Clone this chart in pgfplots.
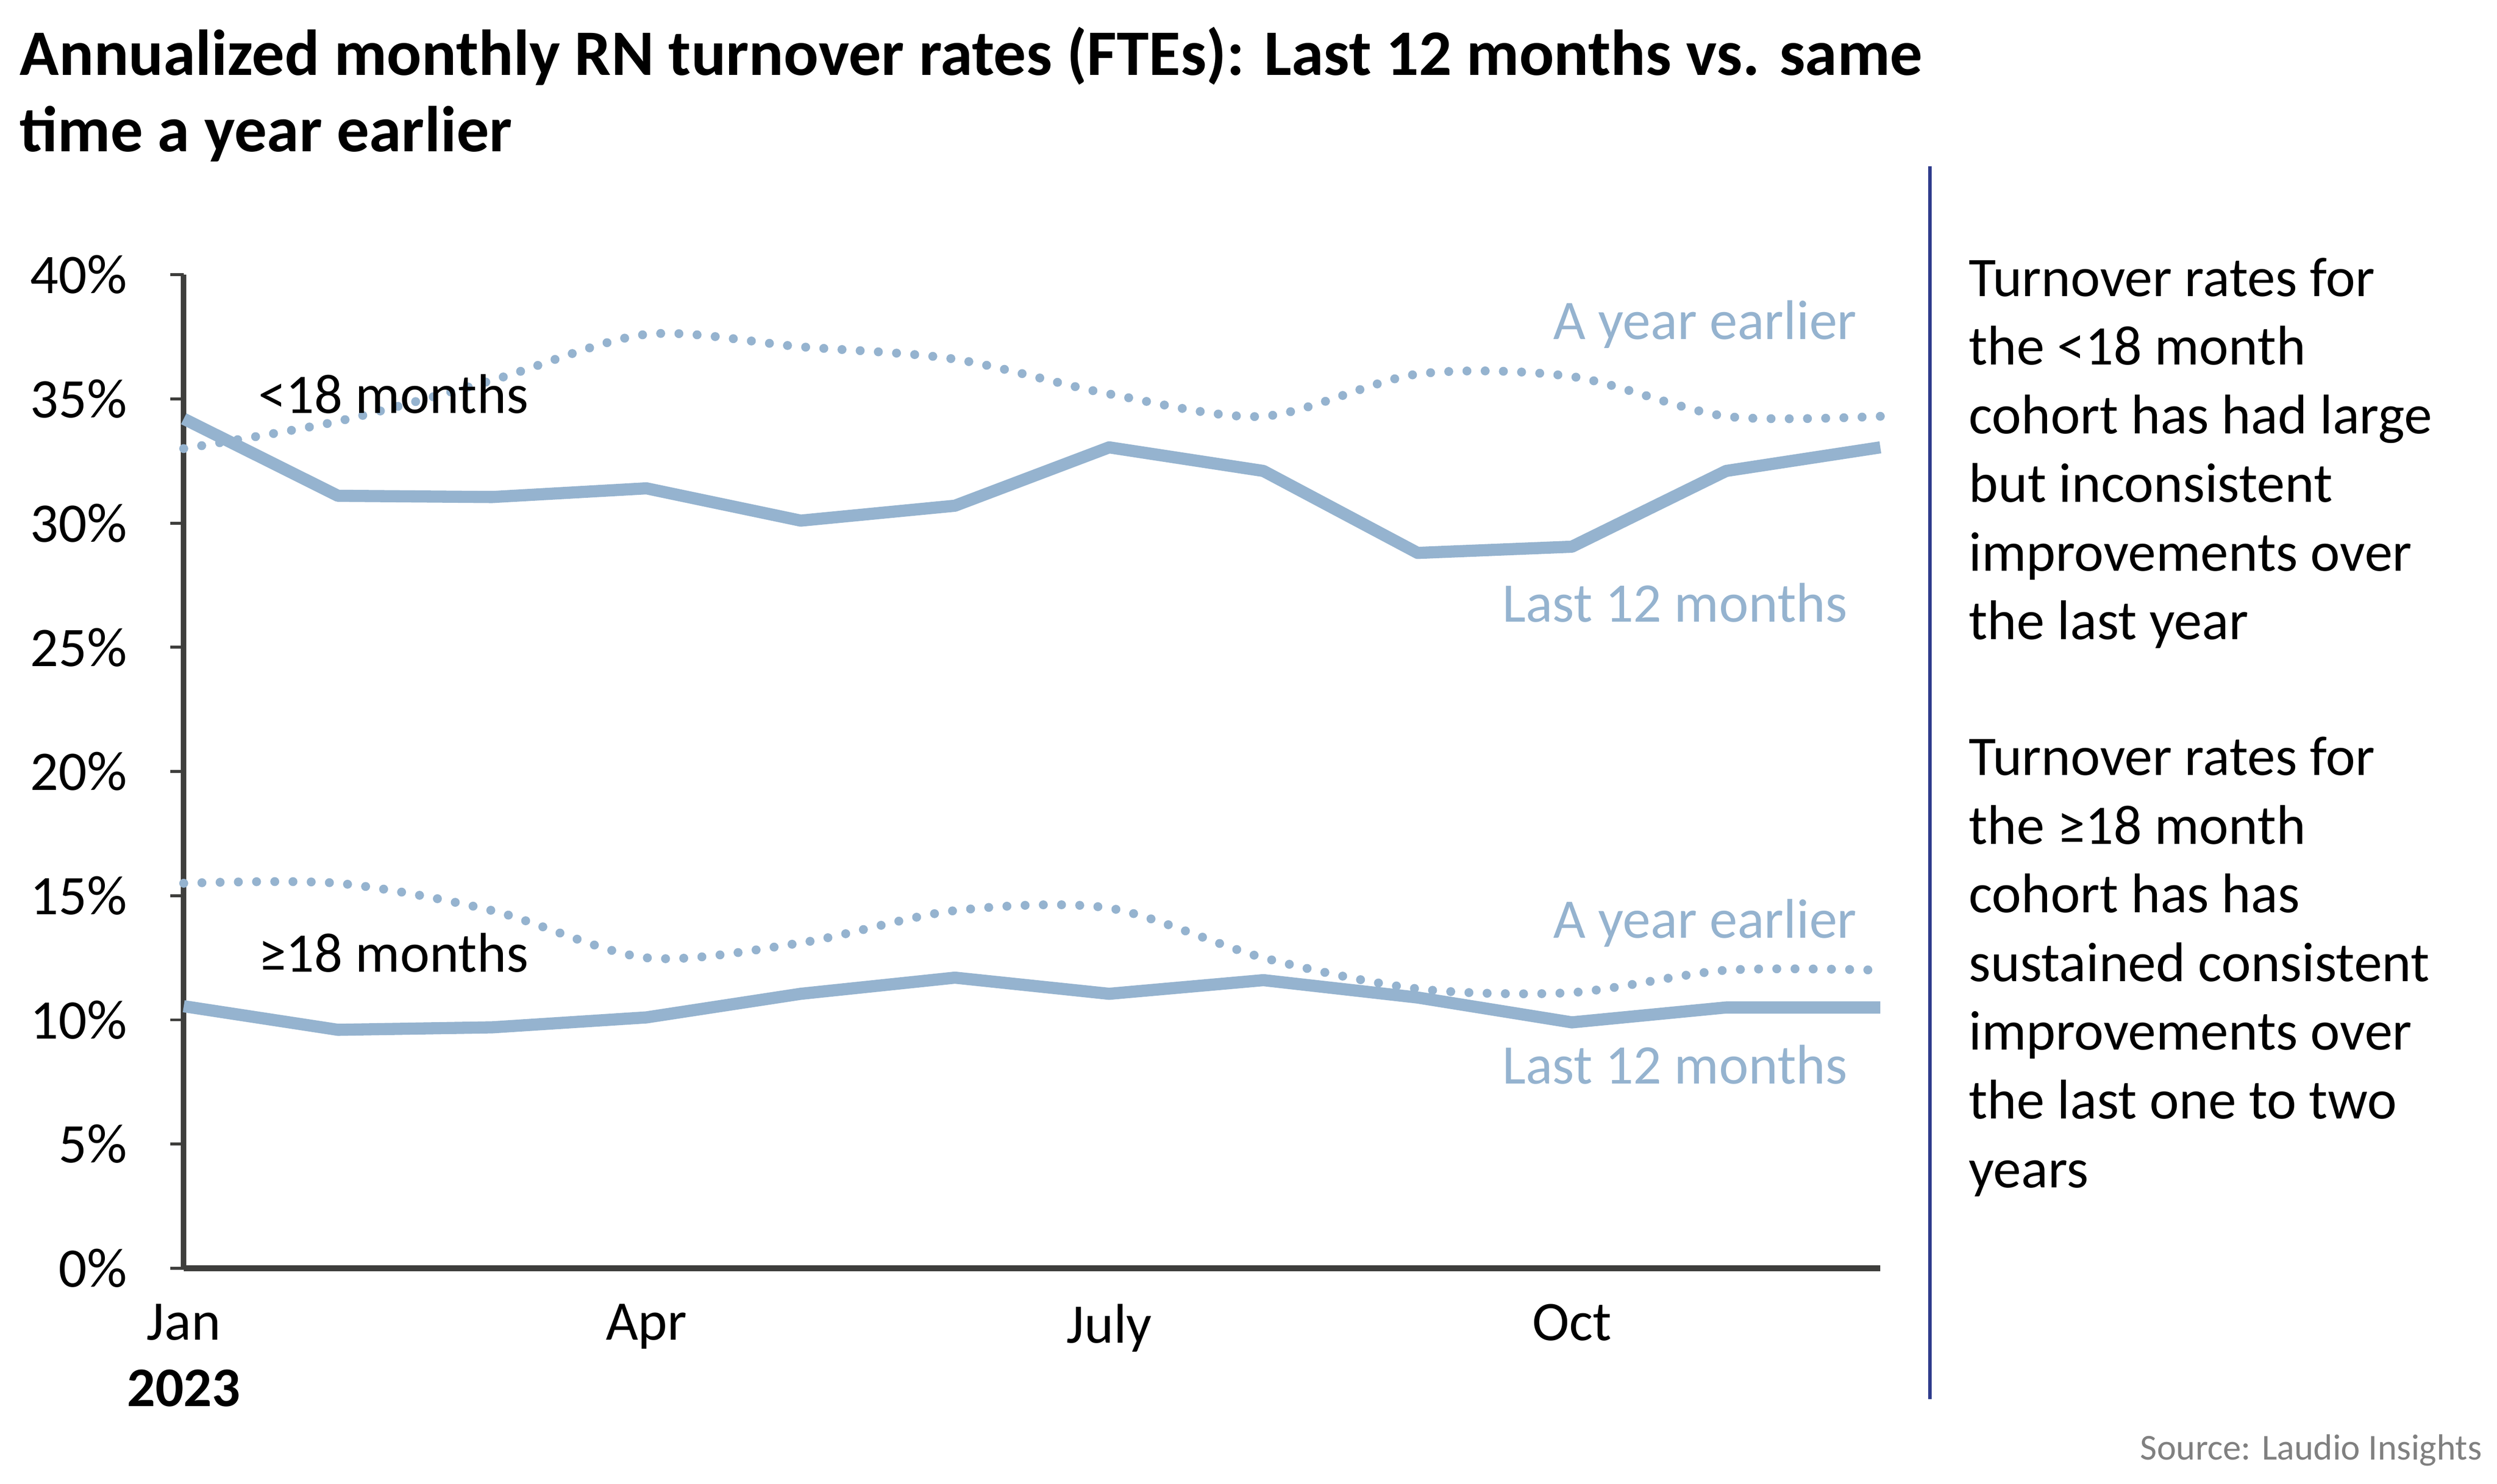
\documentclass[border=0pt]{standalone}
\usepackage{fontspec}
\setmainfont{Carlito}
\usepackage{pgfplots}
\usepackage{pgfplotstable}
\pgfplotsset{compat=1.18}

\definecolor{lineblue}{RGB}{149,179,207}
\definecolor{axisgray}{RGB}{62,62,60}
\definecolor{navyline}{RGB}{47,60,140}
\definecolor{srcgray}{RGB}{128,128,128}

% m = month index (0 = Jan 2023); lt/ly = <18 months last 12 / year earlier; gt/gy = >=18 months
\pgfplotstableread{
m  lt    ly    gt     gy
0  34.2  33.0  10.55  15.5
1  31.1  34.1  9.6    15.5
2  31.05 35.75 9.7    14.4
3  31.4  37.6  10.1   12.5
4  30.1  37.1  11.05  13.1
5  30.7  36.6  11.7   14.4
6  33.05 35.2  11.05  14.5
7  32.1  34.3  11.6   12.5
8  28.8  36.0  10.9   11.25
9  29.05 35.9  9.9    11.1
10 32.1  34.3  10.5   12.0
11 33.05 34.3  10.5   12.0
}\rates

\newcommand{\bodyfont}{\fontsize{17.5}{21.5}\selectfont}

\begin{document}
\begin{tikzpicture}
\useasboundingbox (-57.5pt,-67.5pt) rectangle (724pt,397pt);
\begin{axis}[
    scale only axis,
    width=531pt,
    height=311pt,
    xmin=0, xmax=11,
    ymin=0, ymax=40,
    clip=false,
    axis x line*=bottom,
    axis y line*=left,
    x axis line style={line width=1.8pt, axisgray},
    y axis line style={line width=1.7pt, axisgray},
    xtick={0,3,6,9},
    xticklabels={Jan,Apr,July,Oct},
    xtick style={draw=none},
    ytick={0,5,...,40},
    yticklabels={0\%,5\%,10\%,15\%,20\%,25\%,30\%,35\%,40\%},
    ytick style={axisgray, line width=0.9pt},
    tick align=outside,
    major tick length=4.2pt,
    tick label style={font=\bodyfont},
    yticklabel style={xshift=-10pt},
    xticklabel style={yshift=-3.5pt},
]
\addplot[lineblue, line width=3.8pt, line join=round] table[x=m, y=lt] {\rates};
\addplot[lineblue, line width=2.8pt, line cap=round, dash pattern=on 0pt off 5.7pt, smooth] table[x=m, y=ly] {\rates};
\addplot[lineblue, line width=3.8pt, line join=round] table[x=m, y=gt] {\rates};
\addplot[lineblue, line width=2.8pt, line cap=round, dash pattern=on 0pt off 5.7pt, smooth] table[x=m, y=gy] {\rates};

\node[anchor=west, font=\bodyfont] at (axis cs:0.41,35.2) {<18 months};
\node[anchor=west, font=\bodyfont] at (axis cs:0.41,12.7) {≥18 months};
\node[anchor=east, font=\bodyfont, text=lineblue] at (axis cs:10.92,38.0) {A year earlier};
\node[anchor=east, font=\bodyfont, text=lineblue] at (axis cs:10.86,26.8) {Last 12 months};
\node[anchor=east, font=\bodyfont, text=lineblue] at (axis cs:10.92,13.9) {A year earlier};
\node[anchor=east, font=\bodyfont, text=lineblue] at (axis cs:10.86,8.2) {Last 12 months};
\end{axis}

% year under the first tick
\node[font=\bodyfont\bfseries] at (0pt,-37.5pt) {2023};

% title, two lines
\node[anchor=base west, inner sep=0pt, font=\fontsize{20.3}{24}\selectfont\bfseries]
  at (-51.5pt,373.5pt) {Annualized monthly RN turnover rates (FTEs): Last 12 months vs. same};
\node[anchor=base west, inner sep=0pt, font=\fontsize{20.3}{24}\selectfont\bfseries]
  at (-51.5pt,349.5pt) {time a year earlier};

% divider
\draw[navyline, line width=1pt] (546.5pt,345pt) -- (546.5pt,-41pt);

% commentary
\node[anchor=north west, align=left, inner sep=0pt, font=\bodyfont] at (558.5pt,316.5pt)
  {Turnover rates for\\the <18 month\\cohort has had large\\but inconsistent\\improvements over\\the last year};
\node[anchor=north west, align=left, inner sep=0pt, font=\bodyfont] at (558.5pt,166.5pt)
  {Turnover rates for\\the ≥18 month\\cohort has has\\sustained consistent\\improvements over\\the last one to two\\years};

% source
\node[anchor=base east, inner sep=0pt, font=\fontsize{11.4}{13}\selectfont, text=srcgray] at (719.5pt,-60pt) {Source: Laudio Insights};
\end{tikzpicture}
\end{document}
